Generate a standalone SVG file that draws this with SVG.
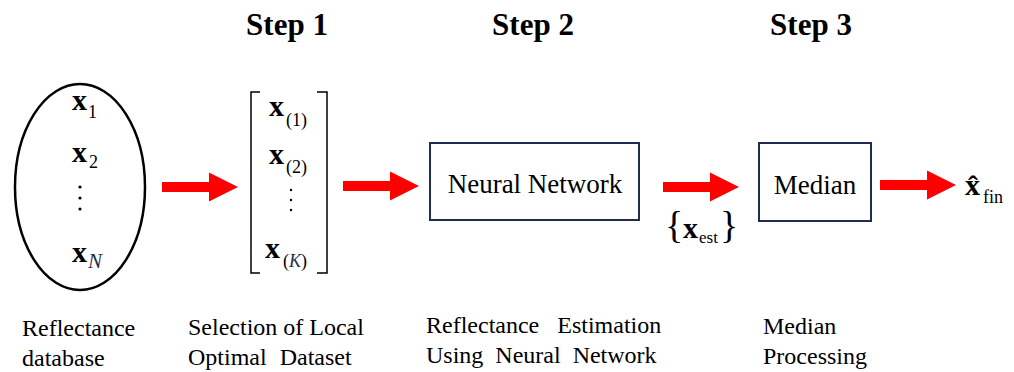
<svg xmlns="http://www.w3.org/2000/svg" width="1014" height="372" viewBox="0 0 1014 372">
<defs>
<path id="arr" d="M0,-5 H47 V-14.5 L76,0 L47,14.5 V5 H0 Z" fill="#ff0000"/>
</defs>
<rect width="1014" height="372" fill="#fff"/>
<g id="titles" font-size="31" font-weight="bold" text-anchor="middle">
<text font-family="Liberation Serif" x="287" y="35">Step 1</text>
<text font-family="Liberation Serif" x="533" y="35">Step 2</text>
<text font-family="Liberation Serif" x="811" y="35">Step 3</text>
</g>
<g id="database">
<ellipse cx="80" cy="187" rx="65" ry="103" fill="none" stroke="#000" stroke-width="2.5"/>
<text font-family="Liberation Serif" font-weight="bold" font-size="30" x="72" y="110">x</text><text font-family="Liberation Serif" font-size="18" x="88" y="118">1</text>
<text font-family="Liberation Serif" font-weight="bold" font-size="30" x="72" y="162">x</text><text font-family="Liberation Serif" font-size="18" x="89" y="168">2</text>
<circle cx="80" cy="187" r="1.6"/><circle cx="80" cy="198" r="1.6"/><circle cx="80" cy="209" r="1.6"/>
<text font-family="Liberation Serif" font-weight="bold" font-size="30" x="72" y="262">x</text><text font-family="Liberation Serif" x="88" y="268" font-size="21" font-style="italic" fill="#1f2d4f">N</text>
</g>
<g id="local-dataset">
<path d="M260,92 H251 V273 H260 M317,92 H327 V273 H317" fill="none" stroke="#000" stroke-width="1.5"/>
<text font-family="Liberation Serif" font-weight="bold" font-size="30" x="269" y="116">x</text><text font-family="Liberation Serif" font-size="18" x="286" y="126">(1)</text>
<text font-family="Liberation Serif" font-weight="bold" font-size="30" x="269" y="164">x</text><text font-family="Liberation Serif" font-size="18" x="286" y="173">(2)</text>
<circle cx="291" cy="190" r="1.2"/><circle cx="291" cy="200" r="1.2"/><circle cx="291" cy="210" r="1.2"/>
<text font-family="Liberation Serif" font-weight="bold" font-size="30" x="265" y="258">x</text><text font-family="Liberation Serif" font-size="18" x="283" y="267">(<tspan font-style="italic" fill="#1f2d4f">K</tspan>)</text>
</g>
<g id="neural-network">
<rect x="430" y="143" width="209" height="77" fill="#fff" stroke="#1f2d4f" stroke-width="2"/>
<text font-family="Liberation Serif" x="535" y="193" font-size="27" text-anchor="middle">Neural Network</text>
</g>
<g id="median">
<rect x="759" y="143" width="112" height="78" fill="#fff" stroke="#1f2d4f" stroke-width="2"/>
<text font-family="Liberation Serif" x="815" y="194" font-size="27" text-anchor="middle">Median</text>
</g>
<g id="output">
<text font-family="Liberation Serif" font-weight="bold" font-size="30" x="965" y="195">x&#770;</text>
<text font-family="Liberation Serif" font-size="18" x="983" y="203">fin</text>
</g>
<g id="connectors">
<use href="#arr" transform="translate(162,187)"/>
<use href="#arr" transform="translate(343,186)"/>
<use href="#arr" transform="translate(663,187)"/>
<use href="#arr" transform="translate(880,185)"/>
<text font-family="Liberation Serif" x="665" y="238" font-size="38">{</text>
<text font-family="Liberation Serif" font-weight="bold" font-size="30" x="683" y="238">x</text><text font-family="Liberation Serif" x="699" y="243" font-size="17">est</text>
<text font-family="Liberation Serif" x="720" y="238" font-size="38">}</text>
</g>
<g id="labels" font-size="24">
<text font-family="Liberation Serif" x="22" y="336">Reflectance</text>
<text font-family="Liberation Serif" x="22" y="366">database</text>
<text font-family="Liberation Serif" x="188" y="335">Selection of Local</text>
<text font-family="Liberation Serif" x="188" y="365" word-spacing="7">Optimal Dataset</text>
<text font-family="Liberation Serif" x="426" y="333" word-spacing="12">Reflectance Estimation</text>
<text font-family="Liberation Serif" x="426" y="363" word-spacing="6">Using Neural Network</text>
<text font-family="Liberation Serif" x="763" y="334">Median</text>
<text font-family="Liberation Serif" x="763" y="364">Processing</text>
</g>
</svg>
